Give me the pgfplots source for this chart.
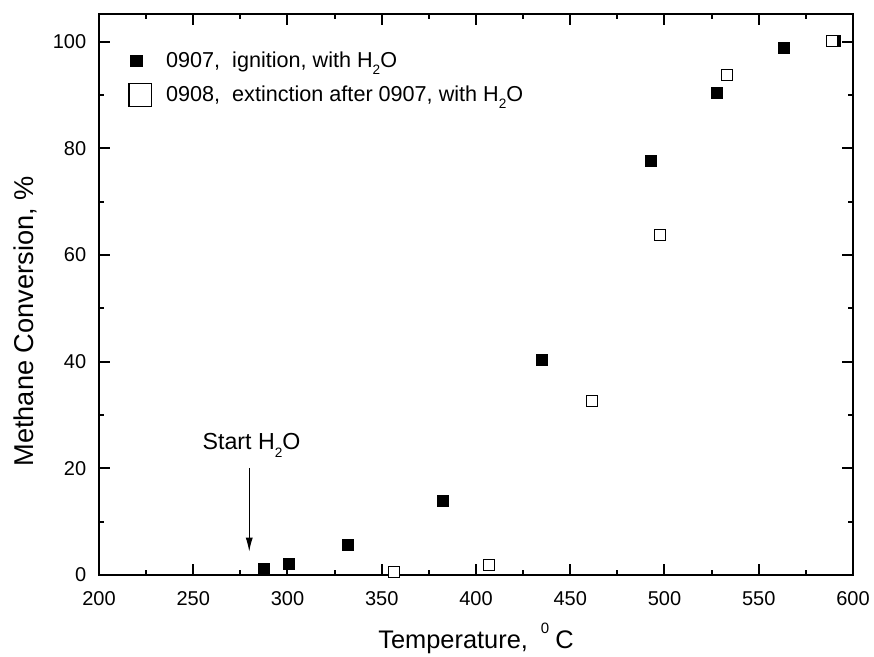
\documentclass[border=0pt]{standalone}
\usepackage{fontspec}
\setmainfont{Liberation Sans}
\usepackage{pgfplots}
\pgfplotsset{compat=1.18}
\usetikzlibrary{arrows.meta}

\newcommand{\sub}[1]{\raisebox{-3.6pt}{\fontsize{6.8}{6.8}\selectfont #1}}

\begin{document}
\begin{tikzpicture}
\useasboundingbox (-49.5pt,-41pt) rectangle (387.5pt,287.5pt);
\begin{axis}[
    at={(0,0)}, anchor=south west,
    scale only axis,
    width=377pt, height=280.5pt,
    xmin=200, xmax=600,
    ymin=0, ymax=105.2,
    xtick={200,250,...,600},
    ytick={0,20,...,100},
    minor x tick num=1,
    minor y tick num=1,
    tick align=inside,
    major tick length=5.5pt,
    minor tick length=2.7pt,
    axis line style={line width=1pt},
    every tick/.style={line width=1pt, black},
    /pgf/number format/assume math mode=true,
    tick label style={font=\fontsize{10}{12}\selectfont},
    xticklabel style={inner sep=0pt, anchor=north, yshift=-8.3pt},
    yticklabel style={inner sep=0pt, anchor=east, xshift=-6.2pt},
    xlabel={Temperature,\hspace{6.5pt}\raisebox{7.5pt}{\fontsize{7.5}{7.5}\selectfont 0}\hspace{3pt}C},
    ylabel={Methane Conversion, \%},
    xlabel style={font=\fontsize{12.7}{14}\selectfont, at={(axis description cs:0.5,-0.1305)}, anchor=base, inner sep=0pt},
    ylabel style={font=\fontsize{13.6}{15}\selectfont, at={(axis description cs:-0.098,0.452)}, anchor=center, inner sep=0pt},
    legend cell align=left,
    legend style={at={(axis description cs:0.039,0.938)}, anchor=north west,
        draw=none, fill=none, inner sep=0pt, outer sep=0pt,
        font=\fontsize{10.8}{12}\selectfont,
        cells={anchor=base west, inner sep=0pt, text height=7.5pt, text depth=2.5pt},
        column sep=5pt, row sep=4pt},
]
% 0907 ignition
\addplot[only marks, mark=square*, mark size=2.75pt, mark options={fill=black, draw=black, line width=0.3pt},
    legend image code/.code={\draw[fill=black, line width=0.3pt] (-5.05pt,0.5pt) rectangle (0.75pt,6.3pt);}]
coordinates {
(287.5,1.1) (300.6,2.1) (331.9,5.6) (382.3,13.9) (434.8,40.3)
(492.8,77.7) (527.5,90.4) (563.4,98.9) (590.5,100.1)
};
\addlegendentry{0907,\ \ ignition, with H\sub{2}O}
% 0908 extinction
\addplot[only marks, mark=square*, mark size=2.7pt, mark options={fill=white, draw=black, line width=0.5pt},
    legend image code/.code={\draw[fill=white, line width=0.6pt] (-5.65pt,-2.25pt) rectangle (5.65pt,9.05pt);}]
coordinates {
(356.5,0.6) (406.9,1.8) (461.7,32.7) (497.6,63.7) (533.3,93.7) (588.7,100.2)
};
\addlegendentry{0908,\ \ extinction after 0907, with H\sub{2}O}
% annotation
\draw[line width=0.5pt, -{Latex[length=7pt,width=3.6pt]}] (axis cs:279.7,20.1) -- (axis cs:279.7,4.4);
\node[font=\fontsize{11.6}{13}\selectfont, anchor=base, inner sep=0pt] at (axis cs:280.9,23.45) {Start H\sub{2}O};
\end{axis}
\end{tikzpicture}
\end{document}
